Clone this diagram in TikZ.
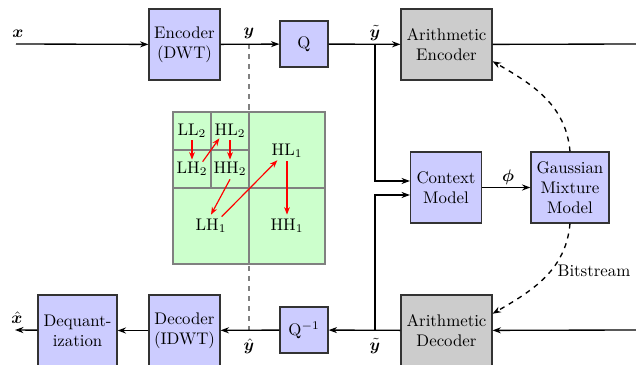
\documentclass[tikz,border=0pt]{standalone}
\usepackage{amsmath,bm}
\usetikzlibrary{arrows.meta,calc}
\begin{document}
\begin{tikzpicture}[x=0.595pt,y=-0.595pt,
  blk/.style={draw=black!80, fill=blue!20, line width=0.7pt, align=center,
    inner sep=1pt, minimum width=42.2pt, minimum height=42.2pt},
  acbox/.style={blk, fill=gray!40, minimum width=54.1pt},
  qbox/.style={blk, minimum width=28.6pt, minimum height=27.4pt},
  flow/.style={line width=0.8pt, -{Stealth[length=5pt,width=3.6pt]}},
  wire/.style={line width=0.8pt},
  prob/.style={line width=0.8pt, dashed, -{Stealth[length=5pt,width=3.6pt]}},
  scan/.style={red, line width=0.7pt, -{Stealth[length=4.5pt,width=3.4pt]}},
  lbl/.style={inner sep=0pt}]
\useasboundingbox (0,0) rectangle (636,365);

% encoder chain
\node[blk] (enc) at (184.5,44.5) {Encoder\\(DWT)};
\node[qbox] (q) at (304,44) {Q};
\node[acbox] (ae) at (446.5,44.5) {Arithmetic\\Encoder};
% entropy model
\node[blk] (cm) at (446,187.5) {Context\\Model};
\node[blk, minimum width=46.4pt] (gmm) at (570,187.5) {Gaussian\\Mixture\\Model};
% decoder chain
\node[acbox] (ad) at (446.5,330.5) {Arithmetic\\Decoder};
\node[qbox] (qi) at (304,330) {Q$^{-1}$};
\node[blk] (dec) at (184.5,330.5) {Decoder\\(IDWT)};
\node[blk, minimum width=47pt] (deq) at (77.5,330.5) {Dequant-\\ization};

\coordinate (xin) at (16,44);
\coordinate (bsout) at (636,44);
\coordinate (bsin) at (636,330);
\coordinate (xout) at (15,330);
\coordinate (ty) at (375,44);
\coordinate (by) at (375,330);
\coordinate (yt) at (249,44);
\coordinate (yb) at (249,330);

% wavelet split marker
\draw[gray, dashed, line width=0.7pt] (yt) -- (yb);

% subband layout
\fill[green!20] (173,112) rectangle (325,264);
\draw[gray, line width=0.8pt] (249,112) -- (249,264) (173,188) -- (325,188)
  (211,112) -- (211,188) (173,150) -- (249,150);
\draw[gray, line width=1.2pt] (173,112) rectangle (325,264);
\node[lbl] (ll2) at (192,131) {LL$_2$};
\node[lbl] (hl2) at (230,131) {HL$_2$};
\node[lbl] (lh2) at (192,169) {LH$_2$};
\node[lbl] (hh2) at (230,169) {HH$_2$};
\node[lbl] (hl1) at (287,151) {HL$_1$};
\node[lbl] (lh1) at (211,226) {LH$_1$};
\node[lbl] (hh1) at (287,226) {HH$_1$};
\draw[scan] (ll2.south) ++(0,2) -- ($(lh2.north)+(0,-2)$);
\draw[scan] ($(lh2.north east)+(-5,0)$) -- ($(hl2.south west)+(5,0)$);
\draw[scan] (hl2.south) ++(0,2) -- ($(hh2.north)+(0,-2)$);
\draw[scan] ($(hh2.south)+(0,3)$) -- ($(lh1.north)+(0,-4)$);
\draw[scan] ($(lh1.north east)+(-5,-2)$) -- ($(hl1.south west)+(6,2)$);
\draw[scan] ($(hl1.south)+(0,3)$) -- ($(hh1.north)+(0,-4)$);

% forward path
\draw[flow] (xin) -- (enc);
\draw[flow] (enc) -- (q);
\draw[flow] (q) -- (ae);
\draw[wire] (ae) -- (bsout);
\draw[flow] (ty) |- ($(cm.west)+(0,-6.5)$);
\draw[flow] (cm) -- (gmm);
\draw[prob] (gmm.north) to[out=95,in=-30] (ae.-20);
\draw[prob] (gmm.south) to[out=-95,in=30] (ad.20);

% backward path
\draw[flow] (bsin) -- (ad);
\draw[flow] (ad) -- (qi);
\draw[flow] (by) |- ($(cm.west)+(0,7.5)$);
\draw[flow] (qi) -- (dec);
\draw[flow] (dec) -- (deq);
\draw[flow] (deq) -- (xout);

% signal labels
\node at (18,34) {$\bm{x}$};
\node at (249,33) {$\bm{y}$};
\node at (375,33) {$\tilde{\bm{y}}$};
\node at (508,177) {$\bm{\phi}$};
\node at (594,271) {Bitstream};
\node at (375,346) {$\tilde{\bm{y}}$};
\node at (249,346) {$\hat{\bm{y}}$};
\node at (17,318) {$\hat{\bm{x}}$};
\end{tikzpicture}
\end{document}
